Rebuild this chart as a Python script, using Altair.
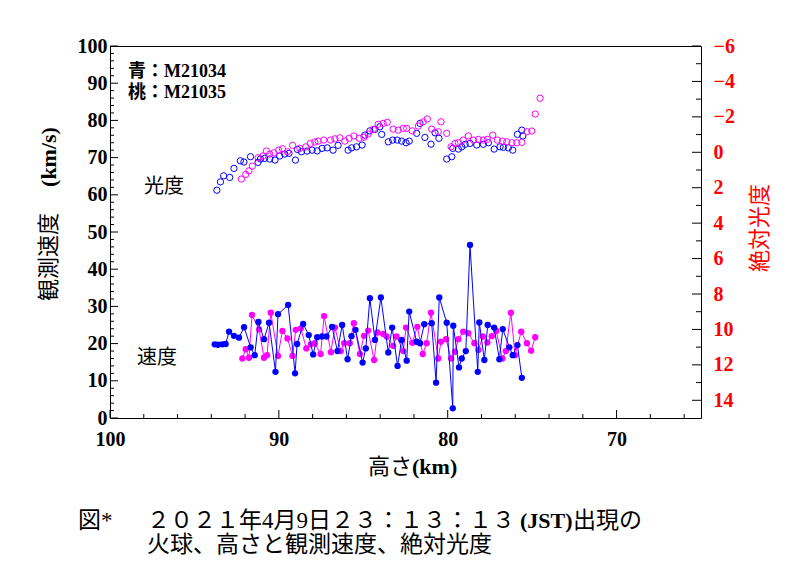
import altair as alt
import pandas as pd

# ---------------- data ----------------
# observed velocity, M21034 (blue)
vel_b_alt = [93.80, 93.61, 93.35, 93.15, 92.95, 92.66, 92.36, 92.06, 91.67, 91.43,
             91.21, 90.88, 90.58, 90.20, 90.05, 89.45, 89.04, 88.92, 88.56, 88.23,
             87.97, 87.73, 87.44, 87.18, 86.85, 86.53, 86.25, 85.93, 85.70, 85.46,
             85.04, 84.85, 84.61, 84.31, 83.96, 83.52, 83.29, 82.97, 82.73, 82.43,
             82.28, 81.84, 81.64, 81.39, 80.95, 80.69, 80.50, 80.06, 79.70, 79.67,
             79.33, 79.17, 78.93, 78.68, 78.22, 78.13, 77.83, 77.63, 77.25, 76.94,
             76.74, 76.35, 76.15, 75.87, 75.61]
vel_b_v = [19.8, 19.7, 19.8, 19.9, 23.2, 22.1, 21.6, 24.4, 19.0, 16.9,
           25.8, 21.2, 25.6, 12.4, 27.9, 30.4, 12.0, 19.9, 25.3, 22.3,
           17.1, 21.7, 21.9, 21.9, 24.5, 18.0, 25.0, 15.8, 22.0, 23.7,
           14.9, 18.7, 32.2, 21.0, 32.4, 17.6, 24.3, 14.0, 21.0, 15.4,
           28.6, 20.5, 20.1, 25.2, 25.5, 9.5, 32.4, 25.6, 2.6, 24.8,
           13.6, 16.0, 18.0, 46.5, 12.4, 25.7, 15.6, 25.0, 24.3, 15.8,
           23.9, 19.0, 16.9, 19.6, 10.8]

# observed velocity, M21035 (magenta)
vel_p_alt = [92.16, 91.96, 91.77, 91.59, 91.17, 90.88, 90.70, 90.48, 90.05, 89.79,
             89.49, 89.19, 89.00, 88.70, 88.37, 88.11, 87.87, 87.53, 87.32, 86.92,
             86.68, 86.33, 86.13, 85.80, 85.56, 85.20, 84.96, 84.71, 84.36, 84.16,
             83.82, 83.62, 83.23, 83.03, 82.63, 82.47, 82.10, 81.80, 81.48, 81.25,
             80.99, 80.56, 80.40, 80.10, 79.80, 79.57, 79.37, 79.08, 78.78, 78.42,
             78.18, 77.92, 77.65, 77.39, 77.13, 76.76, 76.56, 76.26, 76.01, 75.65,
             75.31, 75.06, 74.82]
vel_p_v = [16.0, 18.5, 16.2, 27.7, 23.8, 16.2, 16.9, 28.3, 16.7, 23.4,
           21.4, 16.7, 23.7, 24.1, 18.7, 19.8, 20.1, 17.2, 27.4, 17.7,
           24.3, 18.0, 20.1, 20.1, 25.5, 17.2, 22.1, 23.5, 15.6, 23.0,
           22.6, 21.9, 19.4, 21.9, 18.0, 24.3, 20.2, 24.5, 17.2, 20.1,
           28.3, 16.0, 20.5, 21.2, 16.0, 17.8, 21.2, 23.2, 22.8, 20.1,
           18.3, 21.9, 20.3, 22.0, 23.4, 16.0, 18.0, 28.3, 16.9, 23.2,
           20.1, 18.1, 21.7]

# absolute magnitude, M21034 (blue)
mag_b_alt = [93.67, 93.46, 93.27, 92.91, 92.66, 92.28, 92.07, 91.68, 91.23, 91.09,
             90.84, 90.54, 90.23, 89.95, 89.65, 89.40, 89.02, 88.90, 88.66, 88.33,
             88.03, 87.73, 87.44, 87.14, 86.79, 86.49, 85.90, 85.69, 85.40, 85.07,
             84.91, 84.61, 84.31, 84.02, 83.91, 83.52, 83.26, 82.99, 82.73, 82.47,
             82.28, 81.84, 81.64, 81.35, 80.99, 80.75, 80.52, 80.06, 79.76, 79.70,
             79.37, 79.17, 78.97, 78.68, 78.28, 77.89, 77.59, 77.25, 76.90, 76.70,
             76.41, 76.15, 75.87, 75.61, 75.55]
mag_b_m = [2.14, 1.67, 1.33, 1.42, 0.91, 0.48, 0.55, 0.25, 0.57, 0.38,
           0.34, 0.38, 0.44, 0.21, 0.10, 0.06, 0.44, -0.16, -0.03, -0.07,
           -0.12, -0.08, -0.22, -0.25, -0.12, -0.39, -0.12, -0.25, -0.31, -0.41,
           -0.97, -1.21, -1.29, -1.44, -1.01, -0.59, -0.69, -0.69, -0.63, -0.54,
           -0.63, -1.07, -1.63, -0.84, -0.46, -1.10, -0.79, 0.38, 0.25, -0.22,
           -0.18, -0.31, -0.45, -0.50, -0.41, -0.45, -0.54, -0.18, -0.31, -0.28,
           -0.25, -0.12, -1.01, -1.25, -0.92]

# absolute magnitude, M21035 (magenta)
mag_p_alt = [92.22, 91.96, 91.77, 91.57, 91.23, 90.94, 90.74, 90.54, 90.30, 90.01,
             89.79, 89.49, 89.19, 88.76, 88.40, 88.13, 87.87, 87.67, 87.34, 86.94,
             86.68, 86.39, 86.09, 85.84, 85.56, 85.24, 84.96, 84.71, 84.41, 84.12,
             83.82, 83.58, 83.23, 82.93, 82.63, 82.43, 82.10, 81.74, 81.45, 81.21,
             80.95, 80.56, 80.40, 80.06, 79.80, 79.57, 79.37, 79.08, 78.78, 78.48,
             78.18, 77.89, 77.65, 77.33, 77.06, 76.76, 76.50, 76.20, 75.91, 75.61,
             75.31, 75.02, 74.82, 74.53]
mag_p_m = [1.51, 1.25, 1.05, 0.78, 0.31, 0.21, -0.07, 0.10, 0.03, -0.12,
           -0.20, -0.03, -0.39, -0.22, -0.31, -0.50, -0.58, -0.63, -0.69, -0.69,
           -0.76, -0.82, -0.63, -0.79, -0.92, -0.79, -0.85, -1.03, -1.29, -1.58,
           -1.63, -1.69, -1.31, -1.25, -1.35, -1.35, -1.21, -1.48, -1.72, -1.88,
           -1.31, -1.16, -1.72, -1.07, -0.31, -0.50, -0.54, -0.69, -0.92, -0.69,
           -0.73, -0.69, -0.73, -0.97, -0.69, -0.63, -0.59, -0.54, -0.54, -0.56,
           -1.16, -1.20, -2.16, -3.05]

# axis tick values
x_major = [100, 90, 80, 70]
x_minor = [98, 96, 94, 92, 88, 86, 84, 82, 78, 76, 74, 72, 68, 66]
v_major = [0, 10, 20, 30, 40, 50, 60, 70, 80, 90, 100]
v_minor = [2, 4, 6, 8, 12, 14, 16, 18, 22, 24, 26, 28, 32, 34, 36, 38, 42, 44, 46, 48,
           52, 54, 56, 58, 62, 64, 66, 68, 72, 74, 76, 78, 82, 84, 86, 88, 92, 94, 96, 98]
m_major = [-6, -4, -2, 0, 2, 4, 6, 8, 10, 12, 14]
m_minor = [-5, -3, -1, 1, 3, 5, 7, 9, 11, 13]

# texts
legend_blue = "青：M21034"
legend_pink = "桃：M21035"
lbl_lum = "光度"
lbl_vel = "速度"
ytitle_jp = "観測速度"
ytitle_unit = "(km/s)"
xtitle_jp = "高さ"
xtitle_unit = "(km)"
y2title = "絶対光度"
cap_fig = "図*"
cap_line1a = "２０２１年4月9日２３：１３：１３"
cap_line1b = "(JST)"
cap_line1c = "出現の"
cap_line2 = "火球、高さと観測速度、絶対光度"

# ---------------- styling ----------------
W, H = 591, 372
BLUE = "#0000ff"
PINK = "#ff00ff"
RED = "#ff0000"
SERIF = "Liberation Serif, Noto Sans CJK JP"
CJK = "Liberation Serif, Noto Sans CJK JP"

xscale = alt.Scale(domain=[100, 65], nice=False, zero=False)
vscale = alt.Scale(domain=[0, 100], nice=False, zero=False)
mscale = alt.Scale(domain=[-6, 15], nice=False, zero=False, reverse=True)

xaxis = alt.Axis(values=x_major, title=None, ticks=False, domain=False, grid=False,
                 labelFont=SERIF, labelFontWeight="bold", labelFontSize=20,
                 labelColor="black", labelPadding=11, labelFlush=False)
vaxis = alt.Axis(values=v_major, title=None, ticks=False, domain=False, grid=False,
                 orient="left", labelFont=SERIF, labelFontWeight="bold", labelFontSize=20,
                 labelColor="black", labelPadding=3, labelFlush=False)
maxis = alt.Axis(values=m_major, title=None, ticks=False, domain=False, grid=False,
                 orient="right", labelFont=SERIF, labelFontWeight="bold", labelFontSize=20,
                 labelColor=RED, labelPadding=12, labelFlush=False)


def X():
    return alt.X("alt:Q", scale=xscale, axis=xaxis)


def YV():
    return alt.Y("v:Q", scale=vscale, axis=vaxis)


def YM():
    return alt.Y("m:Q", scale=mscale, axis=maxis)


vb = pd.DataFrame({"alt": vel_b_alt, "v": vel_b_v})
vp = pd.DataFrame({"alt": vel_p_alt, "v": vel_p_v})
mb = pd.DataFrame({"alt": mag_b_alt, "m": mag_b_m})
mp = pd.DataFrame({"alt": mag_p_alt, "m": mag_p_m})

pink_line = alt.Chart(vp).mark_line(color=PINK, strokeWidth=1).encode(x=X(), y=YV())
pink_pts = alt.Chart(vp).mark_point(color=PINK, filled=True, size=40, opacity=1, shape="circle").encode(x=X(), y=YV())
blue_line = alt.Chart(vb).mark_line(color=BLUE, strokeWidth=1).encode(x=X(), y=YV())
blue_pts = alt.Chart(vb).mark_point(color=BLUE, filled=True, size=40, opacity=1, shape="circle").encode(x=X(), y=YV())

# inward ticks
xt_major = alt.Chart(pd.DataFrame({"alt": x_major})).mark_rule(color="black", strokeWidth=1).encode(
    x=X(), y=alt.value(H), y2=alt.value(H - 8))
xt_minor = alt.Chart(pd.DataFrame({"alt": x_minor})).mark_rule(color="black", strokeWidth=1).encode(
    x=X(), y=alt.value(H), y2=alt.value(H - 4))
vt_major = alt.Chart(pd.DataFrame({"v": v_major})).mark_rule(color="black", strokeWidth=1).encode(
    y=YV(), x=alt.value(0), x2=alt.value(8))
vt_minor = alt.Chart(pd.DataFrame({"v": v_minor})).mark_rule(color="black", strokeWidth=1).encode(
    y=YV(), x=alt.value(0), x2=alt.value(4))
mt_major = alt.Chart(pd.DataFrame({"m": m_major})).mark_rule(color="black", strokeWidth=1).encode(
    y=YM(), x=alt.value(W), x2=alt.value(W - 9))
mt_minor = alt.Chart(pd.DataFrame({"m": m_minor})).mark_rule(color="black", strokeWidth=1).encode(
    y=YM(), x=alt.value(W), x2=alt.value(W - 5))


def label(text, x, y, size=20, font=CJK, weight="normal", color="black", angle=0,
          align="left", baseline="middle"):
    return alt.Chart(pd.DataFrame({"t": [text]})).mark_text(
        font=font, fontSize=size, fontWeight=weight, color=color, angle=angle,
        align=align, baseline=baseline).encode(text="t:N", x=alt.value(x), y=alt.value(y))


texts = [
    label(legend_blue, 18, 26, size=18, font=SERIF, weight="bold"),
    label(legend_pink, 18, 47, size=18, font=SERIF, weight="bold"),
    label(lbl_lum, 54, 141, size=20, align="center"),
    label(lbl_vel, 47, 312, size=20, align="center"),
    label(ytitle_jp, -61, 211, size=22, angle=270, align="center"),
    label(ytitle_unit, -61, 111, size=22, font=SERIF, weight="bold", angle=270, align="center"),
    label(xtitle_jp, 302, 421, size=22, align="right"),
    label(xtitle_unit, 302, 421, size=22, font=SERIF, weight="bold", align="left"),
    label(y2title, 650, 182, size=22, color=RED, angle=270, align="center"),
    label(cap_fig, -32, 475, size=23),
    label(cap_line1a, 37, 475, size=23),
    label(cap_line1b, 410, 475, size=22, font=SERIF, weight="bold"),
    label(cap_line1c, 463, 475, size=23),
    label(cap_line2, 37, 499, size=23),
]

vel_group = alt.layer(xt_major, xt_minor, vt_major, vt_minor,
                      pink_line, pink_pts, blue_line, blue_pts, *texts)

mag_pink = alt.Chart(mp).mark_point(color=PINK, filled=False, size=40, strokeWidth=1, opacity=1,
                                     shape="circle").encode(x=X(), y=YM())
mag_blue = alt.Chart(mb).mark_point(color=BLUE, filled=False, size=40, strokeWidth=1, opacity=1,
                                     shape="circle").encode(x=X(), y=YM())
mag_group = alt.layer(mt_major, mt_minor, mag_blue, mag_pink)

chart = alt.layer(vel_group, mag_group).resolve_scale(y="independent").properties(
    width=W, height=H,
    autosize=alt.AutoSizeParams(type="none"),
    padding={"left": 110, "top": 46, "right": 99, "bottom": 168},
    background="white",
).configure_view(stroke="black", strokeWidth=1)

chart.save("out.html", embed_options={"renderer": "svg", "actions": False})
